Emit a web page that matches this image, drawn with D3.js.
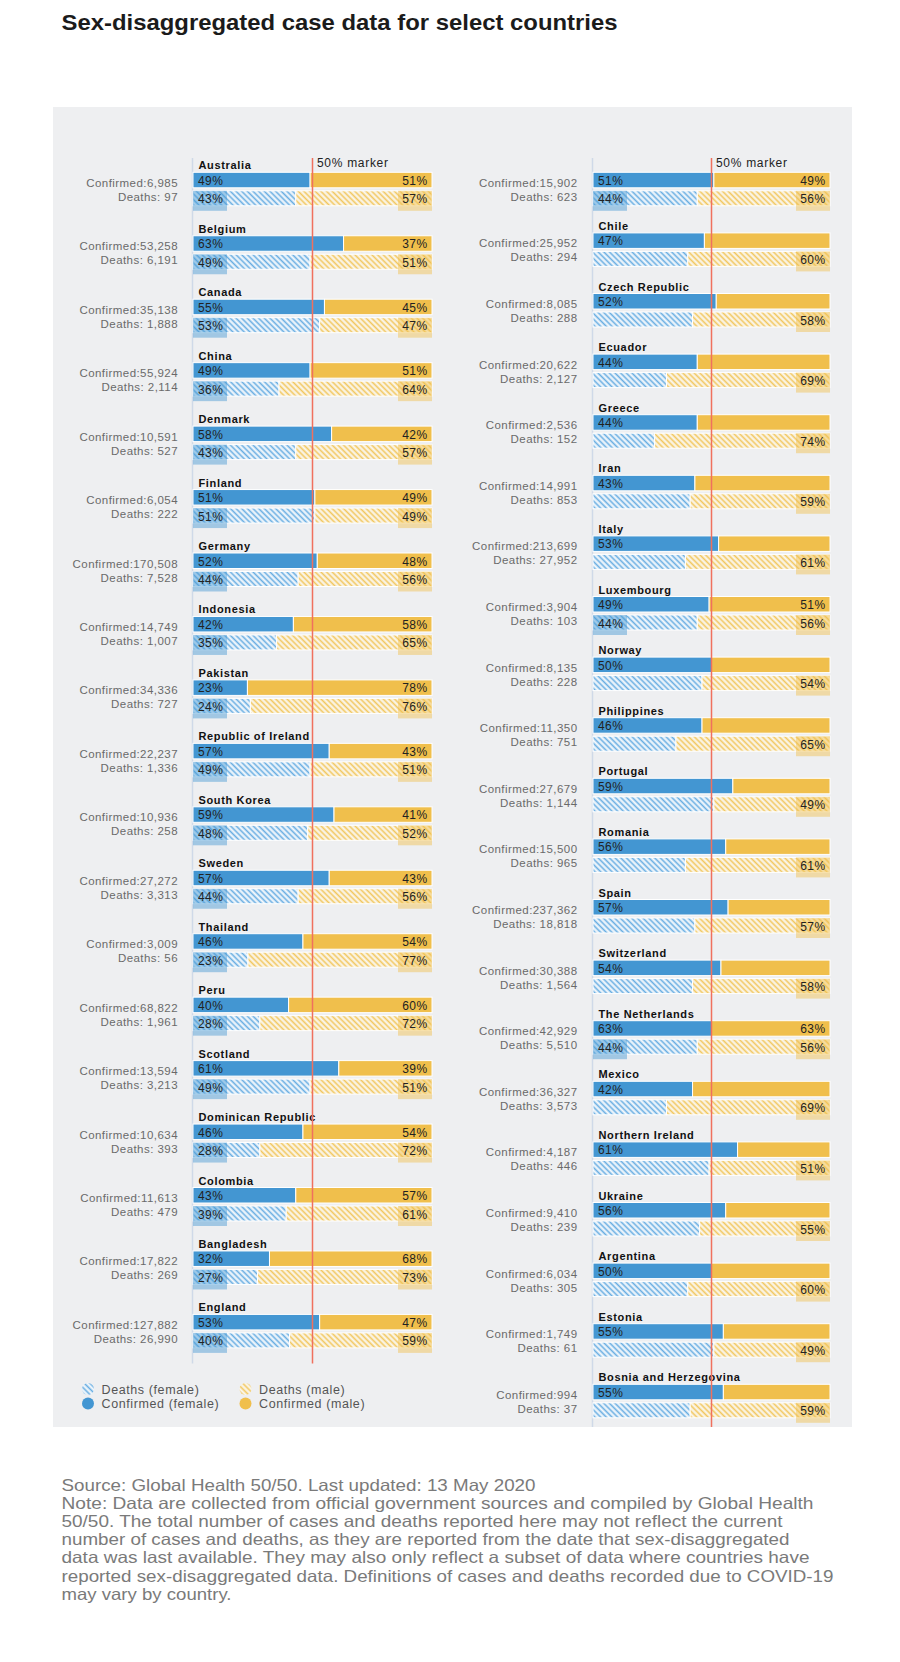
<!DOCTYPE html>
<html>
<head>
<meta charset="utf-8">
<script src="https://cdn.jsdelivr.net/npm/d3@7"></script>
<style>
  html, body { margin: 0; padding: 0; background: #ffffff; }
  svg { display: block; }
  text { font-family: "Liberation Sans", Arial, Helvetica, sans-serif; }
</style>
</head>
<body>
<svg id="chart" width="900" height="1662"></svg>
<script>
// ---------------- DATA ----------------
const countries = [
  "Australia","Belgium","Canada","China","Denmark","Finland","Germany","Indonesia","Pakistan",
  "Republic of Ireland","South Korea","Sweden","Thailand","Peru","Scotland","Dominican Republic",
  "Colombia","Bangladesh","England",
  "","Chile","Czech Republic","Ecuador","Greece","Iran","Italy","Luxembourg","Norway","Philippines",
  "Portugal","Romania","Spain","Switzerland","The Netherlands","Mexico","Northern Ireland","Ukraine",
  "Argentina","Estonia","Bosnia and Herzegovina"
];
const confirmedTotals = [
  "6,985","53,258","35,138","55,924","10,591","6,054","170,508","14,749","34,336",
  "22,237","10,936","27,272","3,009","68,822","13,594","10,634","11,613","17,822","127,882",
  "15,902","25,952","8,085","20,622","2,536","14,991","213,699","3,904","8,135","11,350",
  "27,679","15,500","237,362","30,388","42,929","36,327","4,187","9,410","6,034","1,749","994"
];
const deathTotals = [
  "97","6,191","1,888","2,114","527","222","7,528","1,007","727",
  "1,336","258","3,313","56","1,961","3,213","393","479","269","26,990",
  "623","294","288","2,127","152","853","27,952","103","228","751",
  "1,144","965","18,818","1,564","5,510","3,573","446","239","305","61","37"
];
// shares in percent (null = label not shown in the original)
const confFemale = [49,63,55,49,58,51,52,42,23,57,59,57,46,40,61,46,43,32,53,
  51,47,52,44,44,43,53,49,50,46,59,56,57,54,63,42,61,56,50,55,55];
const confMale = [51,37,45,51,42,49,48,58,78,43,41,43,54,60,39,54,57,68,47,
  49,null,null,null,null,null,null,51,null,null,null,null,null,null,63,null,null,null,null,null,null];
const deathFemale = [43,49,53,36,43,51,44,35,24,49,48,44,23,28,49,28,39,27,40,
  44,null,null,null,null,null,null,44,null,null,null,null,null,null,44,null,null,null,null,null,null];
const deathMale = [57,51,47,64,57,49,56,65,76,51,52,56,77,72,51,72,61,73,59,
  56,60,58,69,74,59,61,56,54,65,49,61,57,58,56,69,51,55,60,49,59];
const leftCount = 19;

const titleText = "Sex-disaggregated case data for select countries";
const legendItems = ["Deaths (female)","Confirmed (female)","Deaths (male)","Confirmed (male)"];
const footerLines = [
  "Source: Global Health 50/50. Last updated: 13 May 2020",
  "Note: Data are collected from official government sources and compiled by Global Health",
  "50/50. The total number of cases and deaths reported here may not reflect the current",
  "number of cases and deaths, as they are reported from the date that sex-disaggregated",
  "data was last available. They may also only reflect a subset of data where countries have",
  "reported sex-disaggregated data. Definitions of cases and deaths recorded due to COVID-19",
  "may vary by country."
];
const footerWidths = [474, 752, 721, 728, 748, 772, 170];

// ---------------- STYLE ----------------
const BLUE = "#4396d2", YELLOW = "#f0bf4c", RED = "#f0705e", PANEL = "#eeeff1";

const svg = d3.select("#chart");
const defs = svg.append("defs");
function hatch(id, color, bg) {
  const p = defs.append("pattern").attr("id", id)
    .attr("patternUnits", "userSpaceOnUse").attr("width", 4).attr("height", 4)
    .attr("patternTransform", "rotate(-45)");
  p.append("rect").attr("width", 4).attr("height", 4).attr("fill", bg);
  p.append("line").attr("x1", 1.5).attr("y1", 0).attr("x2", 1.5).attr("y2", 4)
    .attr("stroke", color).attr("stroke-width", 1.7);
}
hatch("hatchF", "#68ade2", "#f7fafd");
hatch("hatchM", "#f2c75e", "#fbf8f0");

// title
svg.append("text").attr("x", 61.5).attr("y", 29.5)
  .attr("font-size", 21.5).attr("font-weight", "bold").attr("fill", "#1b1b1b")
  .attr("textLength", 556).attr("lengthAdjust", "spacingAndGlyphs")
  .text(titleText);

// panel
svg.append("rect").attr("x", 53).attr("y", 107).attr("width", 799).attr("height", 1320).attr("fill", PANEL);

const rows = countries.map((c, i) => ({
  i, name: c, conf: confirmedTotals[i], death: deathTotals[i],
  cf: confFemale[i], cm: confMale[i], df: deathFemale[i], dm: deathMale[i]
}));

const columns = [
  { rows: rows.slice(0, leftCount), x0: 193, w: 239, step: 63.45, labelX: 178, bottom: null },
  { rows: rows.slice(leftCount), x0: 593, w: 237, step: 60.6, labelX: 577.5, bottom: 1427 }
];

const TOP = 172.3;
columns.forEach((col, ci) => {
  const x = d3.scaleLinear().domain([0, 100]).range([col.x0, col.x0 + col.w]);
  const y = d3.scaleBand().domain(col.rows.map(r => r.i))
    .range([TOP, TOP + col.rows.length * col.step]).paddingInner(0).paddingOuter(0);
  const lastTop = y(col.rows[col.rows.length - 1].i);
  const bottom = col.bottom || (lastTop + 49);
  const g = svg.append("g");

  // axis line (left edge)
  g.append("line").attr("x1", x(0) - 0.5).attr("x2", x(0) - 0.5).attr("y1", 158).attr("y2", bottom)
    .attr("stroke", "#cfd9e8").attr("stroke-width", 1.5);

  const row = g.selectAll("g.row").data(col.rows).join("g").attr("class", "row")
    .attr("transform", d => `translate(0,${y(d.i)})`);

  const split = (f, m) => (f != null && m != null) ? 100 * f / (f + m) : (f != null ? f : 100 - m);

  // confirmed bar
  row.append("rect").attr("x", x(0)).attr("y", 0).attr("height", 15.5)
    .attr("width", d => x(split(d.cf, d.cm)) - x(0))
    .attr("fill", BLUE).attr("stroke", "#fff").attr("stroke-width", 1);
  row.append("rect").attr("x", d => x(split(d.cf, d.cm))).attr("y", 0).attr("height", 15.5)
    .attr("width", d => x(100) - x(split(d.cf, d.cm)))
    .attr("fill", YELLOW).attr("stroke", "#fff").attr("stroke-width", 1);

  // deaths bar (hatched)
  row.append("rect").attr("x", x(0)).attr("y", 18.5).attr("height", 15)
    .attr("width", d => x(split(d.df, d.dm)) - x(0))
    .attr("fill", "url(#hatchF)").attr("stroke", "#fff").attr("stroke-width", 1);
  row.append("rect").attr("x", d => x(split(d.df, d.dm))).attr("y", 18.5).attr("height", 15)
    .attr("width", d => x(100) - x(split(d.df, d.dm)))
    .attr("fill", "url(#hatchM)").attr("stroke", "#fff").attr("stroke-width", 1);

  // highlight boxes behind death labels
  row.filter(d => d.df != null).append("rect").attr("x", x(0)).attr("y", 18.5)
    .attr("width", 34).attr("height", 20).attr("fill", BLUE).attr("opacity", 0.45);
  row.filter(d => d.dm != null).append("rect").attr("x", x(100) - 34).attr("y", 18.5)
    .attr("width", 34).attr("height", 20).attr("fill", YELLOW).attr("opacity", 0.45);

  // country names
  row.append("text").attr("x", x(0) + 5.5).attr("y", -3)
    .attr("font-size", 11).attr("font-weight", "bold").attr("letter-spacing", 0.65)
    .attr("fill", "#111").text(d => d.name);

  // percent labels
  const pct = (sel, cond, xpos, yy, anchor, acc) =>
    sel.filter(cond).append("text").attr("x", xpos).attr("y", yy).attr("text-anchor", anchor)
      .attr("font-size", 12).attr("letter-spacing", 0.4).attr("fill", "#222").text(d => acc(d) + "%");
  pct(row, d => d.cf != null, x(0) + 5, 12.5, "start", d => d.cf);
  pct(row, d => d.cm != null, x(100) - 4.5, 12.5, "end", d => d.cm);
  pct(row, d => d.df != null, x(0) + 5, 31, "start", d => d.df);
  pct(row, d => d.dm != null, x(100) - 4.5, 31, "end", d => d.dm);

  // totals
  row.append("text").attr("x", col.labelX).attr("y", 14.5).attr("text-anchor", "end")
    .attr("font-size", 11.5).attr("letter-spacing", 0.45).attr("fill", "#6a6a6a")
    .text(d => "Confirmed:" + d.conf);
  row.append("text").attr("x", col.labelX).attr("y", 28.5).attr("text-anchor", "end")
    .attr("font-size", 11.5).attr("letter-spacing", 0.45).attr("fill", "#6a6a6a")
    .text(d => "Deaths: " + d.death);

  // 50% marker
  g.append("line").attr("x1", x(50)).attr("x2", x(50)).attr("y1", 158).attr("y2", bottom)
    .attr("stroke", RED).attr("stroke-width", 1.5);
  g.append("text").attr("x", x(50) + 4.5).attr("y", 167.3)
    .attr("font-size", 12).attr("letter-spacing", 0.7).attr("fill", "#222").text("50% marker");
});

// legend
const legend = svg.append("g");
const legendPos = [
  { x: 88, y: 1389, fill: "url(#hatchF)" },
  { x: 88, y: 1403.5, fill: BLUE },
  { x: 245.5, y: 1389, fill: "url(#hatchM)" },
  { x: 245.5, y: 1403.5, fill: YELLOW }
];
legendItems.forEach((t, k) => {
  const p = legendPos[k];
  legend.append("circle").attr("cx", p.x).attr("cy", p.y).attr("r", 6).attr("fill", p.fill);
  legend.append("text").attr("x", p.x + 13.5).attr("y", p.y + 4.5)
    .attr("font-size", 12.5).attr("letter-spacing", 0.6).attr("fill", "#555").text(t);
});

// footer
footerLines.forEach((t, k) => {
  svg.append("text").attr("x", 61.5).attr("y", 1490.5 + k * 18.2)
    .attr("font-size", 16.5).attr("fill", "#7a7a7a")
    .attr("textLength", footerWidths[k]).attr("lengthAdjust", "spacingAndGlyphs")
    .text(t);
});
</script>
</body>
</html>
